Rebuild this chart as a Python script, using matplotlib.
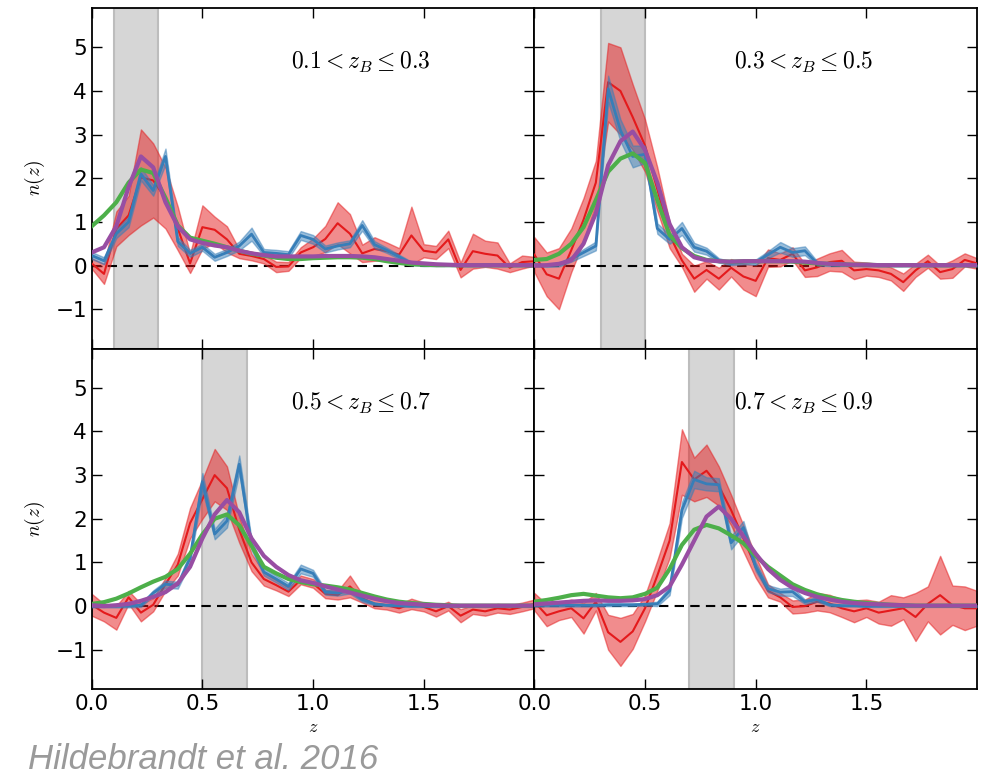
import numpy as np
import matplotlib.pyplot as plt

plt.rcParams['mathtext.fontset'] = 'cm'

# redshift grid shared by every curve
z = np.linspace(0, 2, 37)

bin_lo = [0.1, 0.3, 0.5, 0.7]
bin_hi = [0.3, 0.5, 0.7, 0.9]
bin_labels = [r'$0.1 < z_B \leq 0.3$', r'$0.3 < z_B \leq 0.5$',
              r'$0.5 < z_B \leq 0.7$', r'$0.7 < z_B \leq 0.9$']

# red: noisy estimate with error band
red_1 = [0.05, -0.19, 0.84, 1.15, 2.02, 1.95, 1.55, 0.85, 0.05, 0.88, 0.82, 0.6, 0.27,
         0.22, 0.15, -0.03, -0.02, 0.3, 0.42, 0.61, 0.97, 0.73, 0.28, 0.38, 0.33, 0.25,
         0.69, 0.34, 0.3, 0.6, -0.1, 0.33, 0.27, 0.23, -0.05, 0.08, 0.1]
red_err_1 = [0.12, 0.23, 0.4, 0.45, 1.1, 0.85, 0.7, 0.5, 0.22, 0.5, 0.3, 0.3, 0.1,
             0.1, 0.1, 0.12, 0.1, 0.12, 0.2, 0.3, 0.48, 0.45, 0.2, 0.27, 0.2, 0.15,
             0.66, 0.15, 0.15, 0.2, 0.17, 0.4, 0.3, 0.3, 0.1, 0.15, 0.1]
red_2 = [0.25, -0.2, -0.3, 0.35, 1.05, 1.9, 4.2, 4.0, 3.4, 2.75, 1.75, 0.7, 0.12,
         -0.3, -0.1, -0.3, -0.05, -0.25, -0.35, 0.17, 0.13, 0.27, -0.11, -0.04, 0.08, 0.11,
         -0.11, -0.08, -0.11, -0.19, -0.38, -0.11, 0.1, -0.15, -0.08, 0.13, 0.05]
red_err_2 = [0.4, 0.5, 0.7, 0.5, 0.5, 0.5, 0.9, 1.0, 0.75, 0.6, 0.5, 0.3, 0.15,
             0.3, 0.2, 0.25, 0.2, 0.3, 0.35, 0.2, 0.15, 0.15, 0.15, 0.2, 0.2, 0.25,
             0.2, 0.15, 0.15, 0.15, 0.2, 0.15, 0.15, 0.15, 0.2, 0.15, 0.12]
red_3 = [0.03, -0.15, -0.27, 0.2, -0.15, 0.03, 0.5, 0.95, 1.9, 2.45, 3.0, 2.7, 1.75,
         1.0, 0.62, 0.48, 0.33, 0.6, 0.52, 0.28, 0.25, 0.45, 0.18, 0.05, 0.02, -0.05,
         0.05, -0.02, -0.12, 0.0, -0.22, -0.08, -0.12, -0.05, -0.08, -0.02, 0.05]
red_err_3 = [0.25, 0.2, 0.27, 0.15, 0.2, 0.15, 0.15, 0.25, 0.35, 0.45, 0.6, 0.5, 0.3,
             0.2, 0.15, 0.12, 0.1, 0.1, 0.1, 0.1, 0.1, 0.25, 0.1, 0.1, 0.1, 0.1,
             0.12, 0.1, 0.12, 0.1, 0.15, 0.1, 0.1, 0.1, 0.1, 0.1, 0.1]
red_4 = [0.1, -0.21, -0.12, -0.05, -0.28, 0.1, -0.6, -0.82, -0.58, -0.05, 0.7, 1.5, 3.3,
         2.9, 3.1, 2.75, 2.2, 1.55, 0.9, 0.35, 0.2, -0.02, 0.0, 0.1, 0.06, -0.05,
         -0.12, -0.05, -0.15, -0.1, -0.05, -0.25, 0.05, 0.25, 0.02, -0.05, -0.05]
red_err_4 = [0.2, 0.25, 0.2, 0.2, 0.35, 0.2, 0.4, 0.55, 0.4, 0.3, 0.35, 0.4, 0.75,
             0.5, 0.6, 0.45, 0.35, 0.3, 0.25, 0.15, 0.1, 0.15, 0.15, 0.2, 0.2, 0.2,
             0.25, 0.2, 0.25, 0.35, 0.25, 0.55, 0.4, 0.9, 0.45, 0.5, 0.4]

# blue: second estimate with narrow band
blue_1 = [0.23, 0.11, 0.73, 1.0, 2.1, 1.72, 2.5, 0.55, 0.28, 0.42, 0.19, 0.3, 0.45,
          0.72, 0.3, 0.28, 0.25, 0.69, 0.6, 0.38, 0.45, 0.5, 0.92, 0.48, 0.35, 0.2,
          0.05, 0.02, 0.01, 0.01, 0.0, 0.0, 0.0, 0.0, 0.0, 0.0, 0.0]
blue_err_1 = [0.08, 0.08, 0.1, 0.12, 0.15, 0.12, 0.18, 0.1, 0.08, 0.08, 0.08, 0.08, 0.1,
              0.15, 0.08, 0.08, 0.08, 0.1, 0.1, 0.08, 0.08, 0.08, 0.12, 0.08, 0.06, 0.05,
              0.04, 0.03, 0.02, 0.02, 0.02, 0.02, 0.02, 0.02, 0.02, 0.02, 0.02]
blue_2 = [0.02, 0.0, 0.02, 0.15, 0.3, 0.45, 4.05, 3.1, 2.5, 2.55, 0.85, 0.6, 0.85,
          0.42, 0.33, 0.12, 0.05, 0.08, 0.08, 0.25, 0.42, 0.3, 0.34, 0.05, 0.02, 0.01,
          0.01, 0.0, 0.0, 0.0, 0.0, 0.0, 0.0, 0.0, 0.0, 0.0, 0.0]
blue_err_2 = [0.03, 0.03, 0.04, 0.06, 0.08, 0.1, 0.3, 0.25, 0.25, 0.2, 0.12, 0.1, 0.15,
              0.1, 0.08, 0.05, 0.04, 0.05, 0.06, 0.08, 0.12, 0.1, 0.1, 0.05, 0.03, 0.02,
              0.02, 0.02, 0.02, 0.02, 0.02, 0.02, 0.02, 0.02, 0.02, 0.02, 0.02]
blue_3 = [0.0, 0.0, 0.0, 0.0, 0.02, 0.3, 0.5, 0.48, 1.1, 2.85, 1.65, 1.95, 3.25,
          1.4, 0.78, 0.62, 0.45, 0.85, 0.75, 0.32, 0.3, 0.35, 0.15, 0.05, 0.02, 0.01,
          0.0, 0.0, 0.0, 0.0, 0.0, 0.0, 0.0, 0.0, 0.0, 0.0, 0.0]
blue_err_3 = [0.03, 0.03, 0.03, 0.03, 0.04, 0.06, 0.08, 0.08, 0.12, 0.2, 0.12, 0.15, 0.2,
              0.12, 0.08, 0.08, 0.08, 0.1, 0.08, 0.06, 0.06, 0.06, 0.05, 0.03, 0.02, 0.02,
              0.02, 0.02, 0.02, 0.02, 0.02, 0.02, 0.02, 0.02, 0.02, 0.02, 0.02]
blue_4 = [0.02, 0.02, 0.02, 0.02, 0.02, 0.02, 0.03, 0.03, 0.03, 0.04, 0.05, 0.35, 2.2,
          2.9, 2.8, 2.78, 1.45, 1.8, 0.9, 0.4, 0.32, 0.33, 0.1, 0.15, 0.03, 0.01,
          0.01, 0.0, 0.0, 0.0, 0.0, 0.0, 0.0, 0.0, 0.0, 0.0, 0.0]
blue_err_4 = [0.03, 0.03, 0.03, 0.03, 0.03, 0.03, 0.03, 0.03, 0.03, 0.03, 0.05, 0.1, 0.18,
              0.2, 0.15, 0.15, 0.15, 0.15, 0.1, 0.08, 0.08, 0.1, 0.05, 0.05, 0.03, 0.02,
              0.02, 0.02, 0.02, 0.02, 0.02, 0.02, 0.02, 0.02, 0.02, 0.02, 0.02]

# green and purple: smooth estimates
green_1 = [0.9, 1.15, 1.45, 1.9, 2.2, 2.12, 1.55, 0.92, 0.64, 0.57, 0.5, 0.42, 0.34,
           0.27, 0.23, 0.18, 0.15, 0.15, 0.17, 0.18, 0.19, 0.19, 0.18, 0.15, 0.1, 0.06,
           0.03, 0.02, 0.01, 0.01, 0.01, 0.01, 0.01, 0.01, 0.01, 0.01, 0.01]
green_2 = [0.13, 0.15, 0.27, 0.5, 0.88, 1.5, 2.15, 2.45, 2.57, 2.35, 1.5, 0.7, 0.4,
           0.22, 0.13, 0.1, 0.09, 0.1, 0.1, 0.1, 0.1, 0.09, 0.07, 0.05, 0.04, 0.03,
           0.02, 0.02, 0.01, 0.01, 0.01, 0.01, 0.01, 0.01, 0.01, 0.01, 0.01]
green_3 = [0.05, 0.09, 0.17, 0.29, 0.43, 0.56, 0.67, 0.85, 1.2, 1.64, 2.0, 2.1, 1.85,
           1.38, 0.9, 0.75, 0.62, 0.55, 0.5, 0.47, 0.43, 0.38, 0.3, 0.22, 0.15, 0.1,
           0.07, 0.05, 0.03, 0.02, 0.01, 0.01, 0.01, 0.01, 0.01, 0.01, 0.01]
green_4 = [0.1, 0.14, 0.19, 0.25, 0.28, 0.24, 0.2, 0.18, 0.2, 0.28, 0.42, 0.85, 1.4,
           1.75, 1.86, 1.78, 1.62, 1.44, 1.15, 0.9, 0.7, 0.5, 0.37, 0.27, 0.2, 0.14,
           0.1, 0.07, 0.05, 0.03, 0.02, 0.01, 0.01, 0.01, 0.01, 0.01, 0.01]
purple_1 = [0.3, 0.42, 0.9, 1.8, 2.5, 2.25, 1.45, 0.9, 0.6, 0.52, 0.46, 0.42, 0.34,
            0.28, 0.24, 0.21, 0.21, 0.21, 0.21, 0.22, 0.22, 0.22, 0.21, 0.19, 0.15, 0.11,
            0.07, 0.05, 0.03, 0.02, 0.01, 0.01, 0.01, 0.01, 0.01, 0.01, 0.01]
purple_2 = [0.0, 0.01, 0.04, 0.12, 0.5, 1.2, 2.3, 2.85, 3.07, 2.65, 1.9, 0.95, 0.42,
            0.19, 0.12, 0.1, 0.09, 0.1, 0.1, 0.1, 0.1, 0.1, 0.09, 0.06, 0.04, 0.03,
            0.02, 0.02, 0.01, 0.01, 0.01, 0.01, 0.01, 0.01, 0.01, 0.01, 0.01]
purple_3 = [0.02, 0.0, 0.02, 0.05, 0.12, 0.21, 0.32, 0.52, 0.9, 1.55, 2.1, 2.43, 2.15,
            1.55, 1.15, 0.9, 0.71, 0.59, 0.53, 0.45, 0.38, 0.31, 0.24, 0.17, 0.11, 0.07,
            0.05, 0.03, 0.02, 0.01, 0.01, 0.01, 0.01, 0.01, 0.01, 0.01, 0.01]
purple_4 = [0.04, 0.06, 0.08, 0.1, 0.12, 0.13, 0.12, 0.12, 0.13, 0.16, 0.25, 0.45, 0.95,
            1.5, 2.05, 2.28, 2.0, 1.6, 1.2, 0.85, 0.6, 0.42, 0.3, 0.21, 0.15, 0.1,
            0.07, 0.05, 0.04, 0.03, 0.02, 0.01, 0.01, 0.01, 0.01, 0.01, 0.01]

reds = [red_1, red_2, red_3, red_4]
red_errs = [red_err_1, red_err_2, red_err_3, red_err_4]
blues = [blue_1, blue_2, blue_3, blue_4]
blue_errs = [blue_err_1, blue_err_2, blue_err_3, blue_err_4]
greens = [green_1, green_2, green_3, green_4]
purples = [purple_1, purple_2, purple_3, purple_4]

c_red, c_blue, c_green, c_purple = '#e41a1c', '#377eb8', '#4daf4a', '#984ea3'

fig, axes = plt.subplots(2, 2, figsize=(9.83, 7.79), dpi=100, sharex=True, sharey=True)
fig.subplots_adjust(left=0.0933, right=0.9939, top=0.9897, bottom=0.1155,
                    hspace=0, wspace=0)

for i, ax in enumerate(axes.flat):
    r = np.array(reds[i]); re = np.array(red_errs[i])
    b = np.array(blues[i]); be = np.array(blue_errs[i])

    ax.axvspan(bin_lo[i], bin_hi[i], facecolor='#d6d6d6', edgecolor='#bdbdbd',
               lw=1.5, zorder=0)
    ax.axhline(0, color='k', ls=(0, (4.5, 3)), lw=1.5, zorder=1)

    ax.fill_between(z, r - re, r + re, color=c_red, alpha=0.5, lw=1, zorder=2)
    ax.plot(z, r, color=c_red, lw=1.5, zorder=3)
    ax.fill_between(z, b - be, b + be, color=c_blue, alpha=0.5, lw=1, zorder=4)
    ax.plot(z, b, color=c_blue, lw=2, zorder=5)
    ax.plot(z, greens[i], color=c_green, lw=3, zorder=6)
    ax.plot(z, purples[i], color=c_purple, lw=3, zorder=7)

    ax.text(0.45, 0.84, bin_labels[i], transform=ax.transAxes, fontsize=17,
            va='center', ha='left')

    ax.set_xlim(0, 2.0)
    ax.set_ylim(-1.9, 5.9)
    ax.set_xticks([0.0, 0.5, 1.0, 1.5])
    ax.set_yticks([-1, 0, 1, 2, 3, 4, 5])
    ax.tick_params(direction='in', top=True, right=True, length=7, width=1,
                   labelsize=15.5)
    for s in ax.spines.values():
        s.set_linewidth(1.3)

for ax in axes[:, 0]:
    ax.set_ylabel(r'$n(z)$', fontsize=14, labelpad=6)
for ax in axes[1, :]:
    ax.set_xlabel(r'$z$', fontsize=13, labelpad=3)

fig.text(0.028, 0.004, 'Hildebrandt et al. 2016', fontsize=25, style='italic',
         color='#9a9a9a', family='Liberation Sans', va='bottom')

fig.savefig('out.png', dpi=100)
